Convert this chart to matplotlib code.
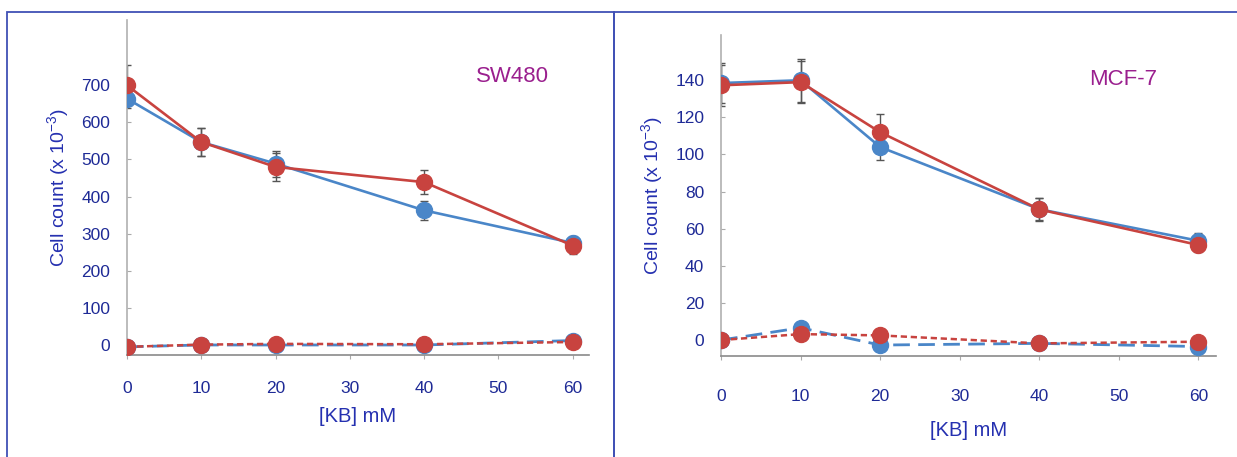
import matplotlib
matplotlib.use('Agg')
import matplotlib.pyplot as plt
from matplotlib.patches import Rectangle

plt.rcParams['font.family'] = ['Liberation Sans', 'DejaVu Sans']

# data
kb = [0, 10, 20, 40, 60]
x_ticks = [0, 10, 20, 30, 40, 50, 60]

sw_blue = [664, 547, 489, 363, 275]
sw_blue_err = [25, 37, 35, 25, 20]
sw_red = [700, 547, 480, 439, 268]
sw_red_err = [54, 37, 38, 32, 22]
sw_blue_dash = [-5, 0, 0, 0, 12]
sw_red_dash = [-5, 1, 3, 2, 8]
sw_yticks = [0, 100, 200, 300, 400, 500, 600, 700]

mcf_blue = [138.5, 140, 104, 70.5, 53.5]
mcf_blue_err = [11, 11.5, 7, 6, 4]
mcf_red = [137.3, 139, 112, 70.4, 51.2]
mcf_red_err = [11, 11.5, 10, 6, 4]
mcf_blue_dash = [0, 6.6, -2.7, -1.8, -3.5]
mcf_red_dash = [0, 3.2, 2.5, -1.8, -0.9]
mcf_yticks = [0, 20, 40, 60, 80, 100, 120, 140]

BLUE = '#4a86c8'
RED = '#c8433f'
TICK_COL = '#1e2a96'
LABEL_COL = '#2530b0'
TITLE_COL = '#9a1f8e'
FRAME_COL = '#4050b5'

W, H = 1237, 457
fig = plt.figure(figsize=(W / 100, H / 100), dpi=100)


def px_rect(x0, y0, x1, y1):
    # pixel box (top-left origin) -> figure fraction [l, b, w, h]
    return [x0 / W, 1 - y1 / H, (x1 - x0) / W, (y1 - y0) / H]


# panel frames (share the middle edge)
fig.patches.append(Rectangle((7 / W, -0.1), 607 / W, 1.1 - 12 / H, transform=fig.transFigure,
                             fill=False, ec=FRAME_COL, lw=1.3))
fig.patches.append(Rectangle((614 / W, -0.1), 1.0, 1.1 - 12 / H, transform=fig.transFigure,
                             fill=False, ec=FRAME_COL, lw=1.3))


def draw_panel(ax, blue, blue_err, red, red_err, blue_dash, red_dash, yticks, ylim, title,
               xpad, xlabelpad, title_xy):
    ax.errorbar(kb, blue, yerr=blue_err, fmt='none', ecolor='#555555', elinewidth=1.0,
                capsize=3, capthick=1.0, zorder=2)
    ax.errorbar(kb, red, yerr=red_err, fmt='none', ecolor='#555555', elinewidth=1.0,
                capsize=3, capthick=1.0, zorder=2)
    ax.plot(kb, blue, color=BLUE, lw=1.9, marker='o', ms=11.5, mec=BLUE, zorder=3)
    ax.plot(kb, red, color=RED, lw=1.9, marker='o', ms=11.5, mec=RED, zorder=4)
    ax.plot(kb, blue_dash, color=BLUE, lw=2.0, ls=(0, (6, 3)), marker='o', ms=11.5, mec=BLUE, zorder=3)
    ax.plot(kb, red_dash, color=RED, lw=1.8, ls=(0, (2.5, 1.5)), marker='o', ms=11.5, mec=RED, zorder=4)

    ax.set_xlim(0, 62.2)
    ax.set_ylim(*ylim)
    ax.set_xticks(x_ticks)
    ax.set_yticks(yticks)
    for s in ['top', 'right']:
        ax.spines[s].set_visible(False)
    ax.spines['bottom'].set_color('#8a8a8a')
    ax.spines['bottom'].set_linewidth(1.2)
    ax.spines['left'].set_color('#b0b0b0')
    ax.spines['left'].set_linewidth(1.2)
    ax.tick_params(axis='y', direction='in', length=3, color='#aaaaaa', labelsize=12.5,
                   labelcolor=TICK_COL, pad=12)
    ax.tick_params(axis='x', direction='out', length=3, color='#aaaaaa', labelsize=12.5,
                   labelcolor=TICK_COL, pad=xpad)
    ax.set_xlabel('[KB] mM', fontsize=14.5, color=LABEL_COL, labelpad=xlabelpad)
    ax.set_ylabel('Cell count (x 10$^{\\mathregular{-3}}$)', fontsize=14, color=LABEL_COL,
                  labelpad=7)
    ax.text(title_xy[0], title_xy[1], title, transform=ax.transAxes, fontsize=16,
            color=TITLE_COL, ha='center', va='center')
    ax.patch.set_alpha(0)


ax1 = fig.add_axes(px_rect(127, 20, 589, 355))
draw_panel(ax1, sw_blue, sw_blue_err, sw_red, sw_red_err, sw_blue_dash, sw_red_dash,
           sw_yticks, (-27, 876), 'SW480', 16, 8, (0.835, 0.83))

ax2 = fig.add_axes(px_rect(721, 35, 1216, 356))
draw_panel(ax2, mcf_blue, mcf_blue_err, mcf_red, mcf_red_err, mcf_blue_dash, mcf_red_dash,
           mcf_yticks, (-8.6, 164.4), 'MCF-7', 21, 12, (0.813, 0.86))

fig.savefig('out.png', dpi=100)
